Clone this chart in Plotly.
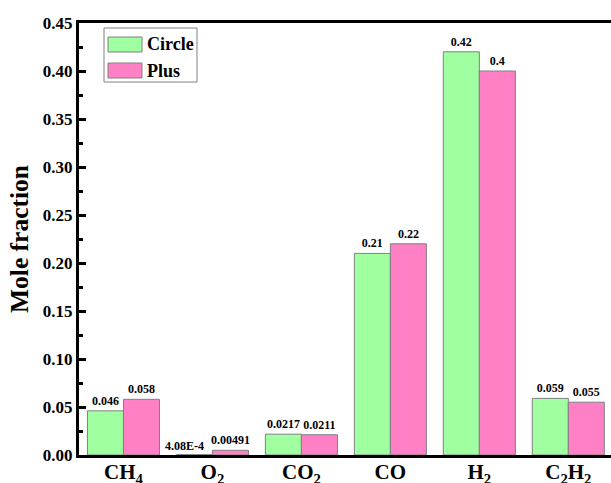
import plotly.graph_objects as go

categories = ["CH<sub>4</sub>", "O<sub>2</sub>", "CO<sub>2</sub>", "CO", "H<sub>2</sub>", "C<sub>2</sub>H<sub>2</sub>"]
series_names = ["Circle", "Plus"]
circle_values = [0.046, 0.000408, 0.0217, 0.21, 0.42, 0.059]
plus_values = [0.058, 0.00491, 0.0211, 0.22, 0.40, 0.055]
circle_labels = ["0.046", "4.08E-4", "0.0217", "0.21", "0.42", "0.059"]
plus_labels = ["0.058", "0.00491", "0.0211", "0.22", "0.4", "0.055"]
y_tick_values = [0.0, 0.05, 0.10, 0.15, 0.20, 0.25, 0.30, 0.35, 0.40, 0.45]
y_tick_labels = ["0.00", "0.05", "0.10", "0.15", "0.20", "0.25", "0.30", "0.35", "0.40", "0.45"]

colors = ["#A0FFA0", "#FF80C4"]
FONT = "Liberation Serif"
W, H = 611, 483
ML, MR, MT, MB = 79, 0, 23, 28
PW, PH = W - ML - MR, H - MT - MB

def px(x):
    return (x - ML) / PW

def py(y):
    return (H - MB - y) / PH

x_idx = list(range(len(categories)))
# the O2 "Circle" label is drawn as a shifted annotation (as in the reference), others as bar text
circle_bar_text = ["" if i == 1 else "<b>%s</b>" % t for i, t in enumerate(circle_labels)]
plus_bar_text = ["<b>%s</b>" % t for t in plus_labels]

fig = go.Figure()
for name, vals, labels, col in [(series_names[0], circle_values, circle_bar_text, colors[0]),
                                 (series_names[1], plus_values, plus_bar_text, colors[1])]:
    fig.add_trace(go.Bar(
        x=x_idx, y=vals, name=name, text=labels, textposition="outside",
        constraintext="none", cliponaxis=False,
        textfont=dict(family=FONT, size=12, color="black"),
        marker=dict(color=col, line=dict(color="#808080", width=1)),
        showlegend=False,
    ))

fig.add_annotation(x=1, y=circle_values[1], xref="x", yref="y", text="<b>%s</b>" % circle_labels[1],
                   showarrow=False, xanchor="center", yanchor="bottom", xshift=-28, yshift=0,
                   font=dict(family=FONT, size=12, color="black"))

fig.update_layout(
    width=W, height=H,
    margin=dict(l=ML, r=MR, t=MT, b=MB, autoexpand=False),
    paper_bgcolor="white", plot_bgcolor="white",
    barmode="group", bargap=0.19, bargroupgap=0,
    font=dict(family=FONT, color="black"),
)
fig.update_xaxes(
    range=[-0.5, 5.48], tickmode="array", tickvals=x_idx,
    ticktext=["<b>%s</b>" % c for c in categories],
    tickfont=dict(family=FONT, size=21), ticklabelstandoff=-4,
    showline=True, linecolor="black", linewidth=3, mirror=True,
    ticks="", showgrid=False, zeroline=False, automargin=False,
)
fig.update_yaxes(
    range=[0, 0.45], tickmode="array", tickvals=y_tick_values,
    ticktext=["<b>%s</b>" % t for t in y_tick_labels],
    tickfont=dict(family=FONT, size=17),
    showline=True, linecolor="black", linewidth=3, mirror=False,
    ticks="inside", ticklen=7, tickwidth=2.5, tickcolor="black",
    minor=dict(ticks="inside", ticklen=4, tickwidth=2.5, tickcolor="black", dtick=0.025, showgrid=False),
    showgrid=False, zeroline=False, automargin=False,
    title=dict(text="<b>Mole fraction</b>", font=dict(family=FONT, size=25.5), standoff=7),
)

# legend box
fig.add_shape(type="rect", xref="paper", yref="paper", x0=px(104), x1=px(197), y0=py(82), y1=py(28),
              line=dict(color="#808080", width=1), fillcolor="white")
for i, (name, col, (ya, yb)) in enumerate(zip(series_names, colors, [(37, 52), (63, 78)])):
    fig.add_shape(type="rect", xref="paper", yref="paper", x0=px(108), x1=px(142), y0=py(yb), y1=py(ya),
                  line=dict(color="#808080", width=1), fillcolor=col)
    fig.add_annotation(xref="paper", yref="paper", x=px(145), y=py((ya + yb) / 2), text="<b>%s</b>" % name,
                       showarrow=False, xanchor="left", yanchor="middle",
                       font=dict(family=FONT, size=18, color="black"))

fig.write_html("out.html")
